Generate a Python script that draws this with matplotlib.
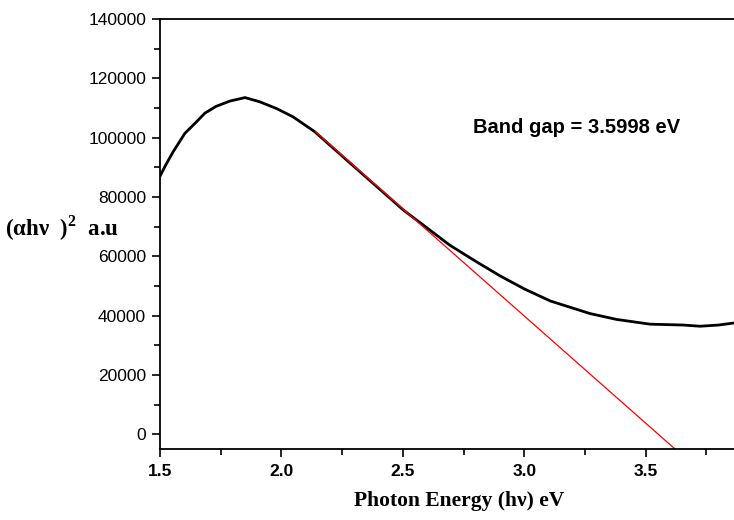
import matplotlib
matplotlib.use("Agg")
import matplotlib.pyplot as plt
from matplotlib.ticker import MultipleLocator

plt.rcParams["mathtext.fontset"] = "custom"
plt.rcParams["mathtext.rm"] = "Liberation Serif:bold"

# Tauc plot data
energy = [1.50, 1.525, 1.554, 1.602, 1.65, 1.684, 1.73, 1.787, 1.85, 1.910,
          1.98, 2.048, 2.137, 2.323, 2.502, 2.694, 2.80, 2.90, 3.00, 3.108,
          3.270, 3.380, 3.518, 3.656, 3.724, 3.80, 3.864]
absorb = [87000, 91000, 95200, 101400, 105300, 108200, 110500, 112300, 113500, 112100,
          109800, 107000, 102000, 88500, 75600, 63700, 58300, 53400, 49000, 44900,
          40700, 38700, 37100, 36800, 36400, 36800, 37500]

# linear fit (tangent) used for the band gap
fit_x = [2.14, 3.621]
fit_y = [102000, -5000]
band_gap = 3.5998

sans = "Liberation Sans"
serif = "Liberation Serif"

fig = plt.figure(figsize=(7.34, 5.2), dpi=100)
ax = fig.add_axes([0.218, 0.1365, 0.782, 0.827])

ax.plot(energy, absorb, color="black", linewidth=2.0)
ax.plot(fit_x, fit_y, color="red", linewidth=0.9)

ax.set_xlim(1.5, 3.864)
ax.set_ylim(-5000, 140000)

ax.xaxis.set_major_locator(MultipleLocator(0.5))
ax.xaxis.set_minor_locator(MultipleLocator(0.25))
ax.yaxis.set_major_locator(MultipleLocator(20000))
ax.yaxis.set_minor_locator(MultipleLocator(10000))

ax.tick_params(which="major", direction="out", length=6, width=1.2)
ax.tick_params(which="minor", direction="out", length=4, width=1.2)
ax.tick_params(axis="y", which="both", right=False, pad=4)
ax.tick_params(axis="x", which="both", top=False, pad=5)

for lab in ax.get_yticklabels():
    lab.set_fontfamily(sans)
    lab.set_fontsize(12.5)
for lab in ax.get_xticklabels():
    lab.set_fontfamily(sans)
    lab.set_fontsize(12.5)
    lab.set_fontweight("bold")

ax.spines["right"].set_visible(False)
for s in ["left", "bottom", "top"]:
    ax.spines[s].set_linewidth(1.3)

ax.text(3.217, 103500, f"Band gap = {band_gap:.4f} eV", fontfamily=sans,
        fontweight="bold", fontsize=14.5, ha="center", va="center")

ax.set_xlabel("Photon Energy (hν) eV", fontfamily=serif, fontweight="bold",
              fontsize=15.5)
ax.xaxis.set_label_coords(0.521, -0.097)
fig.text(0.007, 1 - 228 / 520, "(αhν  )$^{2}$  a.u", fontfamily=serif,
         fontweight="bold", fontsize=16.5, ha="left", va="center")

fig.savefig("out.png", dpi=100)
